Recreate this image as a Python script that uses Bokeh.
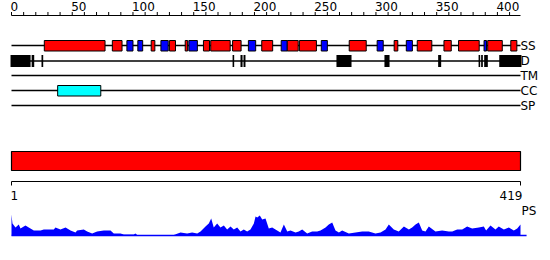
from bokeh.plotting import figure
from bokeh.models import Range1d
from bokeh.core.properties import value
from bokeh.embed import file_html
from bokeh.resources import INLINE

# ---- data ----
seq_len = 419
scale_ticks = list(range(0, 420, 10))
scale_labels = [0, 50, 100, 150, 200, 250, 300, 350, 400]

track_names = ["SS", "D", "TM", "CC", "SP"]

ss_start = [27, 83, 95, 104, 115, 123, 130, 143, 146, 158, 164, 182, 195, 206, 222, 227, 237, 255,
            278, 301, 315, 325, 334, 356, 368, 389, 392, 411]
ss_end = [77, 91, 100, 108, 118, 129, 135, 145, 153, 163, 180, 189, 201, 215, 227, 236, 251, 260,
          292, 306, 318, 330, 346, 362, 385, 391, 404, 416]
ss_type = ["H", "H", "E", "E", "H", "E", "H", "H", "E", "H", "H", "H", "E", "H", "E", "H", "H", "E",
           "H", "E", "H", "E", "H", "H", "H", "E", "H", "H"]

d_start = [-0.8, 16.6, 24.7, 182, 188.5, 191, 267.5, 307, 351.2, 384.5, 386.6, 389.1, 401.5]
d_end = [15.7, 18.7, 26.1, 183.3, 190.2, 192.6, 279.9, 311.2, 353.7, 385.8, 388.0, 392.1, 419.8]

cc_start = [38]
cc_end = [73.5]

domain_start = [0]
domain_end = [419]
axis_labels = ["1", "419"]

ps_pos = [0, 0.8, 3.3, 6, 7.4, 11.5, 15.6, 18.4, 23.9, 26.6, 34.8, 36.2, 40.3, 44.5, 48.6, 52.7, 54,
          59.5, 62.3, 66.4, 70.5, 76, 81.5, 84.2, 89.7, 92.5, 100.7, 102, 103.5, 133.6, 139.1, 144.6,
          148.7, 152.9, 155.6, 159.7, 162.4, 164.4, 166.5, 169.3, 172, 174.8, 177.5, 180.3, 183,
          185.8, 188.5, 191.2, 194, 196.7, 199.5, 200.9, 202.3, 204.4, 206.4, 209.1, 211.8, 214.6,
          217.3, 221.4, 224.2, 227, 229.7, 233.8, 236.5, 239.3, 243.4, 247.5, 251.6, 254.4, 258.5,
          261.2, 264, 266.7, 269.5, 272.2, 277.7, 283.2, 288.7, 294.1, 299.6, 303.8, 307.9, 310.6,
          314.7, 318.8, 323, 327.1, 329.8, 332.6, 335.3, 338.1, 340.8, 343.5, 349, 354.5, 360,
          362.8, 366.9, 371, 375.1, 379.2, 384.7, 388.8, 390.7, 394.3, 398.4, 401.1, 405.3, 409.4,
          413.5, 416.3, 419]
ps_val = [21, 12, 8, 11, 7, 10, 7, 5, 5, 6, 6, 8, 6, 8, 5, 3, 5, 6, 4, 2, 4, 5, 5, 2, 2, 1, 1, 2,
          0.5, 0.5, 3, 2, 3, 2, 4, 9, 12, 17, 8, 12, 8, 10, 6, 9, 6, 8, 4, 6, 4, 6, 12, 19, 18, 20,
          16, 17, 7, 8, 6, 3, 11, 4, 5, 3, 4, 6, 2, 4, 4, 5, 8, 11, 13, 5, 3, 5, 2, 3, 4, 4, 2, 3,
          6, 11, 6, 4, 9, 6, 8, 11, 13, 5, 4, 9, 4, 5, 4, 4, 6, 6, 9, 7, 8, 9, 5, 10, 6, 9, 6, 8, 5,
          7, 11, 17]

# ---- layout (pixel-based vertical coordinates) ----
W, H = 550, 260
k = 509 / seq_len
x0 = -11 / k
x1 = x0 + W / k

p = figure(width=W, height=H, output_backend="svg", toolbar_location=None,
           x_range=Range1d(x0, x1), y_range=Range1d(H, 0),
           x_axis_type=None, y_axis_type=None, min_border=0)
p.outline_line_color = None
p.xgrid.visible = False
p.ygrid.visible = False
p.background_fill_color = "white"
p.border_fill_color = "white"

FONT = value("DejaVu Sans")
FS = "12px"

# top scale
axis_y = 15
p.segment(x0=[0], x1=[seq_len], y0=[axis_y], y1=[axis_y], line_color="black", line_width=1)
p.segment(x0=scale_ticks, x1=scale_ticks, y0=[axis_y] * len(scale_ticks),
          y1=[axis_y - 3.5] * len(scale_ticks), line_color="black", line_width=1)
p.text(x=scale_labels, y=[6] * len(scale_labels), text=[str(v) for v in scale_labels],
       text_font=FONT, text_font_size=FS, text_align="left", text_baseline="middle",
       text_color="black", x_offset=-1)

# tracks
track_y = [45, 60.5, 75, 90, 105]
p.segment(x0=[0] * 5, x1=[seq_len] * 5, y0=track_y, y1=track_y, line_color="black", line_width=1.3)
p.text(x=[seq_len] * 5, y=track_y, text=track_names, text_font=FONT,
       text_font_size=FS, text_align="left", text_baseline="middle", text_color="black",
       x_offset=0)

ss_colors = ["#ff0000" if t == "H" else "#0000ff" for t in ss_type]
p.quad(left=ss_start, right=ss_end, top=[40] * len(ss_start), bottom=[50.5] * len(ss_start),
       fill_color=ss_colors, line_color="black", line_width=1)
p.quad(left=d_start, right=d_end, top=[54.5] * len(d_start), bottom=[66.5] * len(d_start),
       fill_color="black", line_color=None)
p.quad(left=cc_start, right=cc_end, top=[85], bottom=[95.5],
       fill_color="#00ffff", line_color="black", line_width=1)

# domain bar
p.quad(left=domain_start, right=domain_end, top=[151], bottom=[170],
       fill_color="#ff0000", line_color="black", line_width=1.2)

# bottom scale
b_y = 181
p.segment(x0=[0], x1=[seq_len], y0=[b_y], y1=[b_y], line_color="black", line_width=1)
p.segment(x0=[0, seq_len], x1=[0, seq_len], y0=[b_y, b_y], y1=[b_y + 4, b_y + 4],
          line_color="black", line_width=1)
p.text(x=[0], y=[195], text=[axis_labels[0]], text_font=FONT, text_font_size=FS,
       text_align="left", text_baseline="middle", text_color="black", x_offset=-1)
p.text(x=[seq_len], y=[195], text=[axis_labels[1]], text_font=FONT, text_font_size=FS,
       text_align="right", text_baseline="middle", text_color="black", x_offset=2)
p.text(x=[seq_len], y=[210], text=["PS"], text_font=FONT, text_font_size=FS,
       text_align="left", text_baseline="middle", text_color="black", x_offset=1)

# PS profile
base = 235
p.varea(x=ps_pos, y1=[base] * len(ps_pos), y2=[base - v for v in ps_val], fill_color="#0000ff")
p.segment(x0=[0], x1=[seq_len + 5], y0=[base], y1=[base], line_color="#0000ff", line_width=1.5)

open("out.html", "w").write(file_html(p, INLINE))
